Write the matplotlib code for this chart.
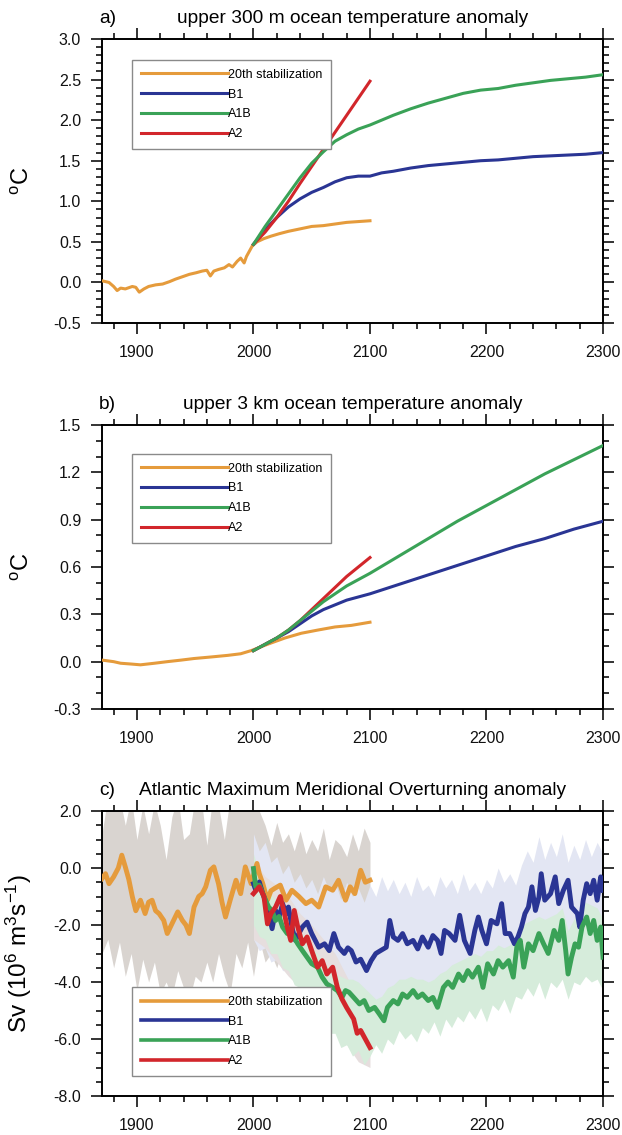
import matplotlib
matplotlib.use('Agg')
import matplotlib.pyplot as plt
from matplotlib.lines import Line2D
from matplotlib.ticker import MultipleLocator, FormatStrFormatter

plt.rcParams['font.family'] = ['Liberation Sans', 'DejaVu Sans']
plt.rcParams['axes.unicode_minus'] = False
plt.rcParams['mathtext.fontset'] = 'custom'
plt.rcParams['mathtext.rm'] = 'Liberation Sans'
plt.rcParams['mathtext.it'] = 'Liberation Sans:italic'

# ---------------- data ----------------
labels = ['20th stabilization', 'B1', 'A1B', 'A2']
colors = ['#E59B3C', '#2A3594', '#3AA257', '#D2262B']

# panel a: upper 300 m temperature anomaly
yrs_a_stab = [1870, 1876, 1880, 1883, 1886, 1890, 1896, 1899, 1902, 1906, 1910, 1916, 1922,
              1928, 1933, 1939, 1945, 1951, 1956, 1960, 1963, 1966, 1970, 1975, 1979, 1982,
              1986, 1989, 1992, 1994, 1999, 2003, 2009, 2015, 2022, 2030, 2040, 2050, 2060,
              2070, 2080, 2090, 2100]
stab_a = [0.02, 0.0, -0.05, -0.1, -0.07, -0.08, -0.05, -0.06, -0.12, -0.08, -0.05, -0.03, -0.02,
          0.01, 0.04, 0.07, 0.1, 0.12, 0.14, 0.15, 0.08, 0.14, 0.16, 0.18, 0.22, 0.19,
          0.26, 0.3, 0.24, 0.32, 0.45, 0.5, 0.54, 0.57, 0.6, 0.63, 0.66, 0.69, 0.7,
          0.72, 0.74, 0.75, 0.76]
yrs_a_scen = [2000, 2010, 2020, 2030, 2040, 2050, 2060, 2070, 2080, 2090, 2100, 2110, 2120,
              2135, 2150, 2165, 2180, 2195, 2210, 2225, 2240, 2255, 2270, 2285, 2300]
b1_a = [0.47, 0.65, 0.8, 0.93, 1.03, 1.11, 1.17, 1.24, 1.29, 1.31, 1.31, 1.35, 1.37,
        1.41, 1.44, 1.46, 1.48, 1.5, 1.51, 1.53, 1.55, 1.56, 1.57, 1.58, 1.6]
a1b_a = [0.47, 0.69, 0.89, 1.09, 1.29, 1.47, 1.61, 1.74, 1.82, 1.89, 1.94, 2.0, 2.06,
         2.14, 2.21, 2.27, 2.33, 2.37, 2.39, 2.43, 2.46, 2.49, 2.51, 2.53, 2.56]
yrs_a2 = [2000, 2010, 2020, 2030, 2040, 2050, 2060, 2070, 2080, 2090, 2100]
a2_a = [0.47, 0.62, 0.8, 1.0, 1.22, 1.43, 1.64, 1.85, 2.06, 2.27, 2.48]

# panel b: upper 3 km temperature anomaly
yrs_b_stab = [1870, 1880, 1886, 1895, 1903, 1915, 1926, 1938, 1949, 1964, 1978, 1989, 1998,
              2012, 2027, 2041, 2055, 2070, 2084, 2100]
stab_b = [0.01, 0.0, -0.01, -0.015, -0.02, -0.01, 0.0, 0.01, 0.02, 0.03, 0.04, 0.05, 0.07,
          0.11, 0.15, 0.18, 0.2, 0.22, 0.23, 0.25]
yrs_b_scen = [2000, 2010, 2020, 2030, 2040, 2050, 2060, 2070, 2080, 2090, 2100, 2125, 2150,
              2175, 2200, 2225, 2250, 2275, 2300]
b1_b = [0.07, 0.11, 0.15, 0.19, 0.24, 0.29, 0.33, 0.36, 0.39, 0.41, 0.43, 0.49, 0.55,
        0.61, 0.67, 0.73, 0.78, 0.84, 0.89]
a1b_b = [0.07, 0.11, 0.15, 0.2, 0.26, 0.32, 0.38, 0.43, 0.48, 0.52, 0.56, 0.67, 0.78,
         0.89, 0.99, 1.09, 1.19, 1.28, 1.37]
a2_b = [0.07, 0.11, 0.15, 0.2, 0.26, 0.33, 0.40, 0.47, 0.54, 0.6, 0.66]

# panel c: Atlantic MOC anomaly (Sv)
yrs_c_stab = [1870, 1873, 1876, 1880, 1884, 1887, 1890, 1893, 1896, 1899,
              1903, 1907, 1910, 1913, 1916, 1919, 1923, 1926, 1930, 1935,
              1939, 1942, 1945, 1949, 1953, 1956, 1959, 1963, 1966, 1970,
              1973, 1976, 1980, 1985, 1989, 1993, 1998, 2003, 2005, 2008,
              2012, 2015, 2018, 2023, 2028, 2033, 2039, 2045, 2050, 2056,
              2062, 2068, 2073, 2079, 2083, 2087, 2092, 2096, 2100]
stab_c = [-0.37, -0.2, -0.55, -0.31, 0.0, 0.45, 0.04, -0.4, -1.0, -1.5,
          -1.13, -1.6, -1.2, -1.13, -1.5, -1.6, -1.84, -2.3, -1.96, -1.54,
          -1.84, -2.0, -2.3, -1.37, -1.0, -0.9, -0.66, -0.08, 0.04, -0.55,
          -1.2, -1.72, -1.13, -0.43, -0.9, 0.04, -0.55, 0.16, -0.2, -0.55,
          -1.13, -0.8, -0.72, -0.6, -1.13, -0.78, -1.0, -1.25, -1.13, -1.37,
          -0.66, -0.78, -0.43, -1.13, -0.66, -0.9, -0.08, -0.5, -0.43]
yrs_c_b1 = [2000, 2002, 2005, 2008, 2010, 2013, 2016, 2019, 2022, 2025,
            2028, 2030, 2033, 2036, 2039, 2042, 2046, 2050, 2056, 2061,
            2065, 2069, 2073, 2078, 2081, 2084, 2088, 2092, 2097, 2101,
            2105, 2109, 2114, 2117, 2120, 2124, 2128, 2132, 2137, 2141,
            2145, 2150, 2154, 2158, 2161, 2164, 2168, 2173, 2177, 2181,
            2186, 2190, 2193, 2196, 2200, 2204, 2209, 2213, 2216, 2220,
            2224, 2227, 2230, 2233, 2236, 2239, 2242, 2245, 2247, 2250,
            2255, 2259, 2262, 2266, 2270, 2273, 2278, 2280, 2283, 2286,
            2289, 2292, 2295, 2298, 2300]
b1_c = [-0.55, -0.78, -0.49, -0.9, -1.13, -1.6, -2.13, -1.49, -1.72, -1.25,
        -1.6, -1.37, -2.07, -2.54, -2.3, -2.07, -1.9, -2.3, -2.78, -2.66,
        -2.9, -2.3, -2.78, -3.0, -2.8, -2.9, -3.3, -3.2, -3.6, -3.25,
        -3.0, -2.9, -2.78, -1.84, -2.42, -2.54, -2.3, -2.66, -2.54, -2.84,
        -2.42, -2.78, -2.37, -2.54, -3.0, -2.19, -2.3, -2.54, -1.66, -2.54,
        -3.0, -2.19, -1.72, -2.19, -2.66, -1.84, -1.96, -1.25, -2.3, -2.3,
        -2.66, -2.42, -2.07, -1.6, -1.37, -0.66, -1.49, -1.02, -0.2, -1.13,
        -0.9, -0.31, -1.25, -0.78, -0.43, -1.37, -1.6, -2.07, -1.13, -0.55,
        -0.9, -0.43, -1.13, -0.31, -0.78]
yrs_c_a1b = [2000, 2002, 2005, 2008, 2013, 2016, 2019, 2022, 2025, 2029,
             2033, 2038, 2042, 2046, 2050, 2055, 2059, 2063, 2068, 2072,
             2076, 2079, 2082, 2086, 2091, 2095, 2099, 2104, 2108, 2112,
             2115, 2120, 2124, 2128, 2132, 2137, 2141, 2145, 2150, 2154,
             2158, 2163, 2167, 2171, 2176, 2180, 2184, 2188, 2193, 2197,
             2201, 2206, 2210, 2214, 2219, 2223, 2226, 2229, 2232, 2236,
             2240, 2245, 2249, 2253, 2258, 2262, 2265, 2268, 2270, 2273,
             2276, 2279, 2282, 2286, 2289, 2292, 2295, 2298, 2300]
a1b_c = [-0.02, -0.66, -0.6, -0.9, -1.37, -1.5, -1.84, -1.7, -2.07, -2.3,
         -2.3, -2.66, -2.9, -3.13, -3.36, -3.48, -3.83, -4.07, -4.19, -4.3,
         -4.54, -4.3, -4.36, -4.54, -4.77, -4.65, -5.0, -4.89, -5.12, -5.36,
         -4.89, -4.65, -4.77, -4.42, -4.54, -4.3, -4.54, -4.42, -4.65, -4.54,
         -4.89, -4.19, -4.0, -4.19, -3.72, -3.95, -3.6, -3.83, -3.48, -4.19,
         -3.36, -3.72, -3.25, -3.48, -3.25, -3.83, -2.78, -2.54, -3.48, -2.66,
         -2.9, -2.3, -2.66, -3.0, -2.19, -2.54, -1.84, -2.9, -3.72, -3.13,
         -2.66, -2.78, -2.07, -1.72, -2.3, -1.84, -2.54, -2.07, -3.13]
yrs_c_a2 = [2000, 2005, 2009, 2012, 2015, 2019, 2023, 2026, 2029, 2032,
            2035, 2038, 2042, 2046, 2050, 2055, 2059, 2063, 2068, 2072,
            2076, 2080, 2083, 2086, 2089, 2092, 2096, 2100]
a2_c = [-0.9, -0.66, -1.0, -1.96, -1.6, -1.37, -1.0, -1.49, -2.07, -2.54,
        -1.49, -2.07, -2.66, -2.42, -2.9, -3.48, -3.25, -3.72, -3.48, -4.19,
        -4.6, -4.9, -5.1, -5.3, -5.8, -5.7, -6.0, -6.3]

# ensemble spread bands (panel c)
yrs_band_stab = list(range(1870, 2101, 5))
stab_c_hi = [1.2, 2.5, 2.5, 2.5, 1.5, 2.5, 1.0, 2.2, 1.2, 2.3,
             1.5, 0.3, 1.8, 2.5, 1.0, 1.2, 2.5, 2.5, 0.8, 2.5,
             2.2, 1.0, 2.5, 2.5, 2.5, 2.5, 2.5, 2.0, 1.5, 0.8,
             1.6, 0.9, 1.2, 0.6, 1.3, 0.5, 1.0, 0.6, 1.4, 0.3,
             1.0, 0.8, 0.4, 1.2, 0.6, 1.4, 0.9]
stab_c_lo = [-3.0, -2.5, -3.5, -2.6, -3.8, -3.0, -4.3, -3.2, -4.0, -3.3,
             -4.4, -4.0, -4.5, -3.6, -4.2, -4.6, -3.8, -4.0, -3.3, -4.0,
             -3.0, -3.8, -4.4, -3.0, -3.5, -2.6, -3.8, -2.5, -3.3, -3.0,
             -3.5, -2.8, -3.4, -3.0, -3.6, -3.2, -3.5, -3.0, -3.4, -2.9,
             -3.3, -2.8, -3.2, -2.7, -3.1, -2.8, -3.0]
yrs_band_scen = list(range(2000, 2301, 5))
b1_c_hi = [1.2, 0.6, 0.9, 0.2, 0.4, -0.2, 0.1, -0.5, -0.2, -0.7,
           -0.4, -0.9, -0.3, -0.8, -0.5, -1.1, -0.5, -1.0, -0.7, -1.2,
           -0.6, -1.0, -0.3, -0.8, -0.4, -0.9, -0.5, -1.0, -0.3, -0.8,
           -0.6, -1.0, -0.3, -0.7, -0.4, -0.9, -0.2, -0.8, -0.5, -0.9,
           -0.4, -0.7, 0.0, -0.5, -0.2, -0.6, 0.1, 0.6, 0.2, 1.1,
           0.3, 0.9, 0.4, 1.2, 0.2, 0.8, 0.3, 1.0, 0.4, 0.9, 0.5]
b1_c_lo = [-2.5, -2.9, -2.8, -3.3, -3.2, -3.6, -3.6, -4.0, -3.8, -4.3,
           -4.2, -4.5, -4.3, -4.7, -4.5, -4.8, -4.6, -5.0, -4.8, -5.0,
           -4.6, -4.9, -4.5, -4.8, -4.4, -4.6, -4.2, -4.5, -4.3, -4.5,
           -4.1, -4.4, -4.0, -4.3, -3.9, -4.2, -4.0, -4.1, -3.7, -4.0,
           -3.8, -3.9, -3.5, -3.8, -3.6, -3.7, -3.2, -3.4, -3.0, -3.3,
           -2.9, -3.3, -3.1, -3.2, -2.8, -3.1, -3.0, -3.0, -2.7, -2.9, -2.8]
a1b_c_hi = [0.5, -0.2, -0.6, -0.9, -1.2, -1.5, -1.7, -2.0, -2.2, -2.5,
            -2.8, -3.0, -3.3, -3.5, -3.7, -3.8, -3.9, -3.9, -4.0, -4.2,
            -4.4, -4.6, -4.5, -4.2, -4.1, -3.9, -3.9, -3.8, -3.9, -3.9,
            -4.0, -3.9, -3.7, -3.6, -3.4, -3.3, -3.2, -3.1, -3.0, -3.1,
            -2.9, -2.9, -2.7, -2.8, -2.7, -2.4, -2.0, -1.9, -1.8, -1.7,
            -1.8, -1.7, -1.6, -1.4, -2.2, -1.8, -1.5, -1.2, -1.3, -1.4, -1.8]
a1b_c_lo = [-2.0, -2.4, -2.5, -3.0, -3.0, -3.5, -3.6, -4.1, -4.2, -4.7,
            -4.8, -5.3, -5.4, -5.8, -5.8, -6.3, -6.2, -6.6, -6.4, -6.9,
            -6.6, -6.2, -6.5, -6.0, -6.2, -5.7, -6.0, -5.8, -6.1, -5.6,
            -5.8, -5.4, -5.9, -5.3, -5.6, -5.2, -5.4, -5.0, -5.3, -4.9,
            -5.4, -4.8, -5.0, -4.6, -5.1, -4.5, -4.6, -4.2, -4.5, -4.0,
            -4.6, -4.0, -4.2, -3.9, -4.6, -4.0, -4.1, -3.8, -4.0, -3.9, -4.3]
yrs_band_a2 = list(range(2000, 2101, 10))
a2_c_hi = [0.3, -0.3, -0.6, -1.0, -1.6, -2.0, -2.5, -3.0, -3.8, -4.6, -5.4]
a2_c_lo = [-2.5, -2.8, -3.3, -3.8, -4.2, -4.6, -5.0, -5.6, -6.2, -6.8, -7.0]

band_colors = ['#D9D4D0', '#E3E6F3', '#D6ECDB', '#E6DEDE']

titles = ['upper 300 m ocean temperature anomaly',
          'upper 3 km ocean temperature anomaly',
          'Atlantic Maximum Meridional Overturning anomaly']
tags = ['a)', 'b)', 'c)']
xticks = [1900, 2000, 2100, 2200, 2300]

# ---------------- figure ----------------
W, H = 622, 1135
fig = plt.figure(figsize=(W / 100, H / 100), dpi=100)


def make_ax(top_px, bot_px):
    return fig.add_axes([102 / W, 1 - bot_px / H, 501 / W, (bot_px - top_px) / H])


def style(ax, ylim, major, minor, tag, title, ylabel, ylabel_size, legend_top, lw_leg):
    ax.set_xlim(1870, 2300)
    ax.set_ylim(*ylim)
    ax.set_xticks(xticks)
    ax.xaxis.set_minor_locator(MultipleLocator(20))
    ax.yaxis.set_major_locator(MultipleLocator(major))
    ax.yaxis.set_minor_locator(MultipleLocator(minor))
    ax.yaxis.set_major_formatter(FormatStrFormatter('%.1f'))
    ax.tick_params(which='both', direction='out', top=True, right=True,
                   labeltop=False, labelright=False, width=1.2, colors='#111111')
    ax.tick_params(which='major', length=8, labelsize=11.5)
    ax.tick_params(which='minor', length=4)
    ax.tick_params(axis='y', which='major', pad=7)
    ax.tick_params(axis='x', which='major', pad=8)
    for s in ax.spines.values():
        s.set_linewidth(1.4)
    ax.annotate(title, xy=(0.5, 1), xycoords='axes fraction', xytext=(0, 14.5),
                textcoords='offset points', ha='center', va='center', fontsize=13.8)
    ax.annotate(tag, xy=(0, 1), xycoords='axes fraction', xytext=(-2, 14.5),
                textcoords='offset points', ha='left', va='center', fontsize=13.8)
    ax.set_ylabel(ylabel, fontsize=ylabel_size)
    ax.yaxis.set_label_coords(-0.135, 0.5)
    handles = [Line2D([], [], color=c, lw=lw_leg) for c in colors]
    leg = ax.legend(handles, labels, loc='upper left', bbox_to_anchor=(0.06, legend_top),
                    fontsize=9, handlelength=7.0, handletextpad=0.0, labelspacing=0.62,
                    borderpad=0.7, borderaxespad=0.0, fancybox=False, framealpha=1.0,
                    edgecolor='#8a8a8a', facecolor='white')
    leg.get_frame().set_linewidth(1.0)
    leg.set_zorder(10)


# panel a
ax = make_ax(39, 323)
ax.plot(yrs_a_stab, stab_a, color=colors[0], lw=2.2, zorder=3)
ax.plot(yrs_a_scen, b1_a, color=colors[1], lw=2.2, zorder=4)
ax.plot(yrs_a_scen, a1b_a, color=colors[2], lw=2.2, zorder=5)
ax.plot(yrs_a2, a2_a, color=colors[3], lw=2.2, zorder=4.5)
style(ax, (-0.5, 3.0), 0.5, 0.1, tags[0], titles[0], '$^{\\mathrm{o}}$C', 17, 0.926, 2.2)

# panel b
ax = make_ax(425, 709)
ax.plot(yrs_b_stab, stab_b, color=colors[0], lw=2.2, zorder=3)
ax.plot(yrs_b_scen, b1_b, color=colors[1], lw=2.2, zorder=4)
ax.plot(yrs_b_scen, a1b_b, color=colors[2], lw=2.2, zorder=5)
ax.plot(yrs_a2, a2_b, color=colors[3], lw=2.2, zorder=4.5)
style(ax, (-0.3, 1.5), 0.3, 0.1, tags[1], titles[1], '$^{\\mathrm{o}}$C', 17, 0.898, 2.2)

# panel c
ax = make_ax(811, 1096)
ax.fill_between(yrs_band_stab, stab_c_lo, stab_c_hi, color=band_colors[0], lw=0, zorder=1)
ax.fill_between(yrs_band_scen, b1_c_lo, b1_c_hi, color=band_colors[1], lw=0, zorder=1.2)
ax.fill_between(yrs_band_a2, a2_c_lo, a2_c_hi, color=band_colors[3], lw=0, zorder=1.3)
ax.fill_between(yrs_band_scen, a1b_c_lo, a1b_c_hi, color=band_colors[2], lw=0, zorder=1.4)
ax.plot(yrs_c_stab, stab_c, color=colors[0], lw=3.5, zorder=3)
ax.plot(yrs_c_b1, b1_c, color=colors[1], lw=3.5, zorder=4)
ax.plot(yrs_c_a1b, a1b_c, color=colors[2], lw=3.5, zorder=4.2)
ax.plot(yrs_c_a2, a2_c, color=colors[3], lw=3.5, zorder=4.5)
style(ax, (-8.0, 2.0), 2.0, 0.5, tags[2], titles[2],
      'Sv (10$^{\\mathrm{6}}$ m$^{\\mathrm{3}}$s$^{\\mathrm{-1}}$)', 17.5, 0.382, 2.6)

fig.savefig('out.png', dpi=100)
